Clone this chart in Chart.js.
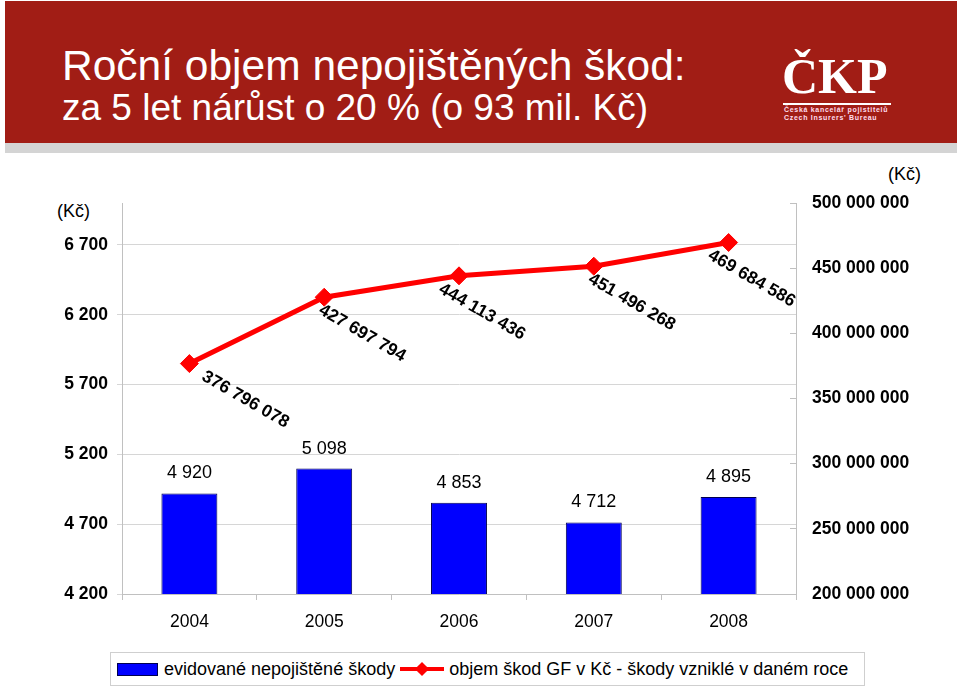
<!DOCTYPE html>
<html>
<head>
<meta charset="utf-8">
<script src="https://cdn.jsdelivr.net/npm/chart.js@4.4.1/dist/chart.umd.min.js"></script>
<style>
  body { margin: 0; background: #fff; font-family: "Liberation Sans", Arial, sans-serif; }
  #page { position: relative; width: 960px; height: 688px; overflow: hidden; }
  #head { position: absolute; left: 5px; top: 1px; width: 952px; height: 142px; background: #a11d15; }
  #strip { position: absolute; left: 5px; top: 143px; width: 952px; height: 10px; background: #d4d4d4; }
  .t1 { position: absolute; left: 62px; top: 43px; color: #fff; font-size: 42.5px; line-height: 46px; white-space: nowrap; }
  .t2 { position: absolute; left: 62px; top: 88px; color: #fff; font-size: 37px; line-height: 40px; white-space: nowrap; }
  .logo { position: absolute; left: 782px; top: 50px; color: #fff; font-family: "Liberation Serif", serif; font-weight: bold; font-size: 50px; line-height: 52px; }
  .logoline { position: absolute; left: 783px; top: 103px; width: 108px; height: 2px; background: #fff; }
  .logosub { position: absolute; left: 784px; top: 106px; color: #fde; font-size: 7px; font-weight: bold; letter-spacing: 0.7px; line-height: 8px; white-space: nowrap; }
  .unit { position: absolute; font-size: 18px; color: #000; }
  #wrap { position: absolute; left: 0; top: 150px; width: 960px; height: 490px; }
  #legend { position: absolute; left: 110px; top: 652px; width: 753px; height: 32px; border: 1px solid #cfcfcf;
            font-size: 18px; display: flex; align-items: center; white-space: nowrap; }
  .sw-bar { display: inline-block; width: 39px; height: 11px; background: #0000ff; border: 1px solid #000050; margin: 0 6px 0 6px; }
  .sw-line { display: inline-block; position: relative; width: 44px; height: 12px; margin: 0 5px 0 5px; }
  .sw-line .ln { position: absolute; left: 0; top: 4px; width: 44px; height: 4px; background: #ff0000; }
  .sw-line .dm { position: absolute; left: 17px; top: 1px; width: 10px; height: 10px; background: #ff0000; transform: rotate(45deg); }
</style>
</head>
<body>
<div id="page">
  <div id="head"></div>
  <div id="strip"></div>
  <div class="t1">Roční objem nepojištěných škod:</div>
  <div class="t2">za 5 let nárůst o 20 % (o 93 mil. Kč)</div>
  <div class="logo">ČKP</div>
  <div class="logoline"></div>
  <div class="logosub">Česká kancelář pojistitelů<br>Czech Insurers' Bureau</div>
  <div class="unit" style="left:57px;top:201px;">(Kč)</div>
  <div class="unit" style="left:888px;top:164px;">(Kč)</div>
  <div id="wrap"><canvas id="myChart"></canvas></div>
  <div id="legend"></div>
</div>
<script>
var years = ['2004', '2005', '2006', '2007', '2008'];
var pocetSkod = [4920, 5098, 4853, 4712, 4895];
var objemSkod = [376796078, 427697794, 444113436, 451496268, 469684586];
var leftTicks = [4200, 4700, 5200, 5700, 6200, 6700];
var barLabel = 'evidované nepojištěné škody';
var lineLabel = 'objem škod GF v Kč - škody vzniklé v daném roce';

function fmt(v) {
    return String(v).replace(/\B(?=(\d{3})+(?!\d))/g, ' ');
}

// label nudges (px) for the rotated line labels, as placed in the original
var labelNudge = [18, 0, -15, 0, -15];

// value labels on bars and rotated labels under line points
var valueLabels = {
    id: 'valueLabels',
    afterDatasetsDraw: function(chart) {
        var ctx = chart.ctx;
        ctx.save();
        ctx.fillStyle = '#000';
        chart.getDatasetMeta(1).data.forEach(function(bar, i) {
            ctx.font = '18px "Liberation Sans", Arial, sans-serif';
            ctx.textAlign = 'center';
            ctx.textBaseline = 'middle';
            ctx.fillText(fmt(pocetSkod[i]), bar.x, bar.y - 20);
        });
        chart.getDatasetMeta(0).data.forEach(function(pt, i) {
            ctx.save();
            ctx.translate(pt.x + 38 + labelNudge[i], pt.y + 36);
            ctx.rotate(30 * Math.PI / 180);
            ctx.font = 'bold 17.5px "Liberation Sans", Arial, sans-serif';
            ctx.textAlign = 'center';
            ctx.textBaseline = 'middle';
            ctx.fillText(fmt(objemSkod[i]), 0, 0);
            ctx.restore();
        });
        ctx.restore();
    }
};

var ctx = document.getElementById('myChart');
var myChart = new Chart(ctx, {
    type: 'bar',
    data: {
        labels: years,
        datasets: [
            {
                type: 'line',
                label: lineLabel,
                data: objemSkod,
                yAxisID: 'y2',
                borderColor: '#ff0000',
                backgroundColor: '#ff0000',
                borderWidth: 5,
                pointStyle: 'rectRot',
                pointRadius: 9,
                pointBackgroundColor: '#ff0000',
                pointBorderColor: '#ff0000',
                pointBorderWidth: 1,
                tension: 0,
                order: 0
            },
            {
                label: barLabel,
                data: pocetSkod,
                yAxisID: 'y',
                backgroundColor: '#0000ff',
                borderColor: '#000050',
                borderWidth: 1,
                barPercentage: 0.415,
                categoryPercentage: 1,
                order: 1
            }
        ]
    },
    options: {
        responsive: true,
        maintainAspectRatio: false,
        animation: false,
        layout: { padding: { top: 53, left: 0, right: 0, bottom: 0 } },
        plugins: {
            legend: { display: false },
            tooltip: { enabled: false }
        },
        scales: {
            x: {
                grid: { drawOnChartArea: false, tickLength: 6, color: '#c0c0c0', offset: true },
                border: { color: '#c0c0c0' },
                ticks: { color: '#000', font: { size: 17.5 }, padding: 12 },
                afterFit: function(s) { s.height = 46; }
            },
            y: {
                position: 'left',
                min: 4200,
                max: 7000,
                afterBuildTicks: function(s) {
                    s.ticks = leftTicks.map(function(v) { return { value: v }; });
                },
                grid: { color: '#d6d6d6', tickLength: 5 },
                border: { color: '#c0c0c0' },
                ticks: {
                    color: '#000',
                    font: { size: 17.5, weight: 'bold' },
                    padding: 9,
                    callback: function(v) { return fmt(v); }
                },
                afterFit: function(s) { s.width = 122; }
            },
            y2: {
                position: 'right',
                min: 200000000,
                max: 500000000,
                grid: { drawOnChartArea: false, tickLength: -6, color: '#c0c0c0' },
                border: { color: '#c0c0c0' },
                ticks: {
                    stepSize: 50000000,
                    color: '#000',
                    font: { size: 17.5, weight: 'bold' },
                    padding: 22,
                    callback: function(v) { return fmt(v); }
                },
                afterFit: function(s) { s.width = 164; }
            }
        }
    },
    plugins: [valueLabels]
});

// legend with frame
var lg = document.getElementById('legend');
lg.innerHTML = '<span class="sw-bar"></span><span>' + barLabel + '</span>' +
    '<span class="sw-line"><span class="ln"></span><span class="dm"></span></span><span>' + lineLabel + '</span>';
</script>
</body>
</html>
